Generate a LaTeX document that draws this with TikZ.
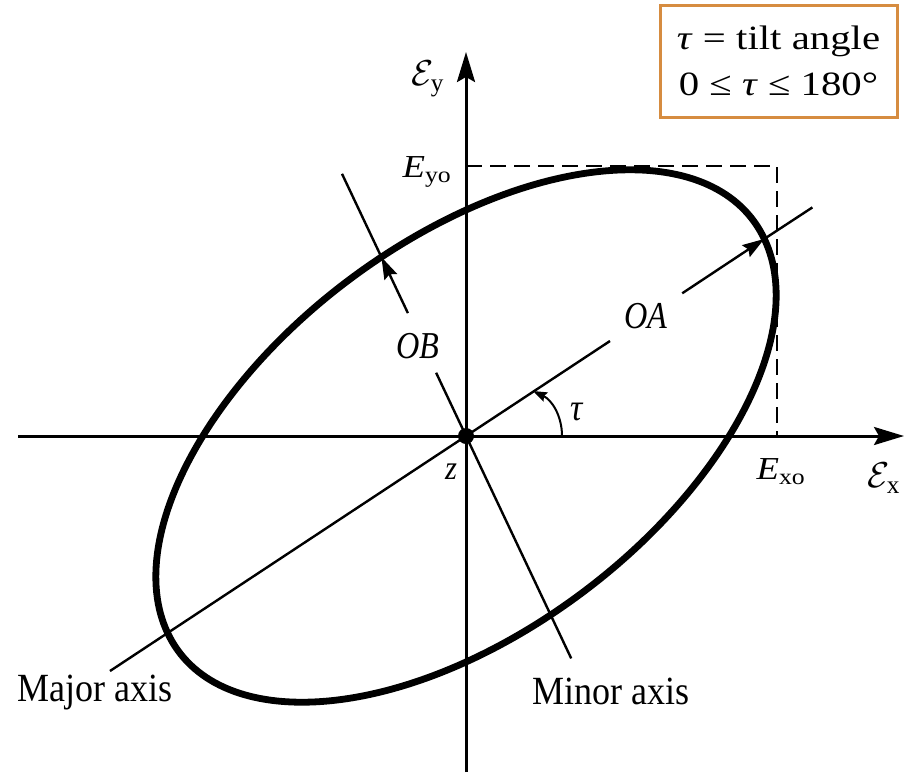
\RequirePackage{fix-cm}
\documentclass[tikz,border=0pt]{standalone}
\usepackage{fontspec}
\usepackage{amsmath}
\usepackage{graphicx}
\setmainfont{Liberation Serif}
\usetikzlibrary{arrows.meta}
\definecolor{boxorange}{RGB}{214,140,64}
\newcommand{\hsq}[2]{\scalebox{#1}[1]{#2}}
\begin{document}
\begin{tikzpicture}[x=1pt,y=-1pt,
  axisline/.style={line width=3pt},
  axarrow/.style={-{Stealth[length=30pt,width=18pt,inset=5pt]}},
  thinline/.style={line width=2.4pt},
  ptarrow/.style={-{Stealth[length=22pt,width=14pt,inset=3pt]}},
  dashline/.style={line width=2.6pt, dash pattern=on 16pt off 8pt},
  lblbig/.style={inner sep=0pt, font=\fontsize{40}{44}\selectfont},
  lblmid/.style={inner sep=0pt, font=\fontsize{38}{40}\selectfont},
  lblsub/.style={inner sep=0pt, font=\fontsize{32}{34}\selectfont},
  lblz/.style={inner sep=0pt, font=\fontsize{34}{36}\selectfont},
  lblcal/.style={inner sep=0pt, font=\fontsize{36}{40}\selectfont},
  infobox/.style={draw=boxorange, line width=3pt, fill=white, minimum width=237pt,
    minimum height=112pt, inner sep=0pt, align=center, font=\fontsize{34}{46}\selectfont}
]
\useasboundingbox (0,0) rectangle (905,772);
% key points
\coordinate (O) at (466,436);
\coordinate (xl) at (18,436);
\coordinate (xr) at (904,436);
\coordinate (yb) at (466,772);
\coordinate (yt) at (466,52);
% major axis
\coordinate (MA1) at (110,671);
\coordinate (MAg1) at (610,341);
\coordinate (MAg2) at (682.2,293.3);
\coordinate (MAtip) at (764.3,238.9);
\coordinate (MA2) at (812.4,207.4);
% minor axis
\coordinate (MIup) at (342,173.8);
\coordinate (MItip) at (381.4,257.1);
\coordinate (MIg1) at (407.9,313.1);
\coordinate (MIg2) at (436.1,372.7);
\coordinate (MIlow) at (571.2,658.4);
% dashed box
\coordinate (Dy) at (466,166);
\coordinate (Dc) at (777,166);
\coordinate (Dx) at (777,436);
% tau arc
\coordinate (T1) at (562,436);
\coordinate (T2) at (533,391);

% dashed lines
\draw[dashline] (Dy) -- (Dc) -- (Dx);
% axes
\draw[axisline, axarrow] (xl) -- (xr);
\draw[axisline, axarrow] (yb) -- (yt);
% major axis
\draw[thinline] (MA1) -- (MAg1);
\draw[thinline, ptarrow] (MAg2) -- (MAtip);
\draw[thinline] (MAtip) -- (MA2);
% minor axis
\draw[thinline] (MIup) -- (MItip);
\draw[thinline, ptarrow] (MIg1) -- (MItip);
\draw[thinline] (MIg2) -- (MIlow);
% ellipse
\begin{scope}[shift={(O)}, xscale=0.846, rotate=29.2]
  \draw[line width=6.8pt] (0,0) ellipse [x radius=404pt, y radius=205pt];
\end{scope}
% tau arc
\draw[line width=2pt, -{Stealth[length=14pt,width=10pt,inset=2pt]}] (T1) .. controls (562,416) and (552,400) .. (T2);
% origin dot
\node[circle, fill=black, inner sep=0pt, minimum size=16pt] (dot) at (O) {};

% labels
\node[lblcal] (Ey) at (428,79) {$\mathcal{E}_{\text{y}}$};
\node[lblcal] (Ex) at (884,478) {$\mathcal{E}_{\text{x}}$};
\node[lblsub] (Eyo) at (427,172) {\hsq{1.15}{\textit{E}\textsubscript{yo}}};
\node[lblsub] (Exo) at (781,472) {\hsq{1.15}{\textit{E}\textsubscript{xo}}};
\node[lblmid] (OB) at (418,346) {\hsq{0.85}{\textit{OB}}};
\node[lblmid] (OA) at (646,316) {\hsq{0.85}{\textit{OA}}};
\node[lblmid] (tau) at (577,412) {\hsq{0.9}{\textit{τ}}};
\node[lblz] (z) at (451,472) {\hsq{0.9}{\textit{z}}};
\node[lblbig] (major) at (95,693) {\hsq{0.9}{Major axis}};
\node[lblbig] (minor) at (611,691) {\hsq{0.9}{Minor axis}};
% info box
\node[infobox] (box) at (778.5,61) {\hsq{1.2}{\textit{τ} = tilt angle}\\\hsq{1.2}{0 ≤ \textit{τ} ≤ 180°}};
\end{tikzpicture}
\end{document}
